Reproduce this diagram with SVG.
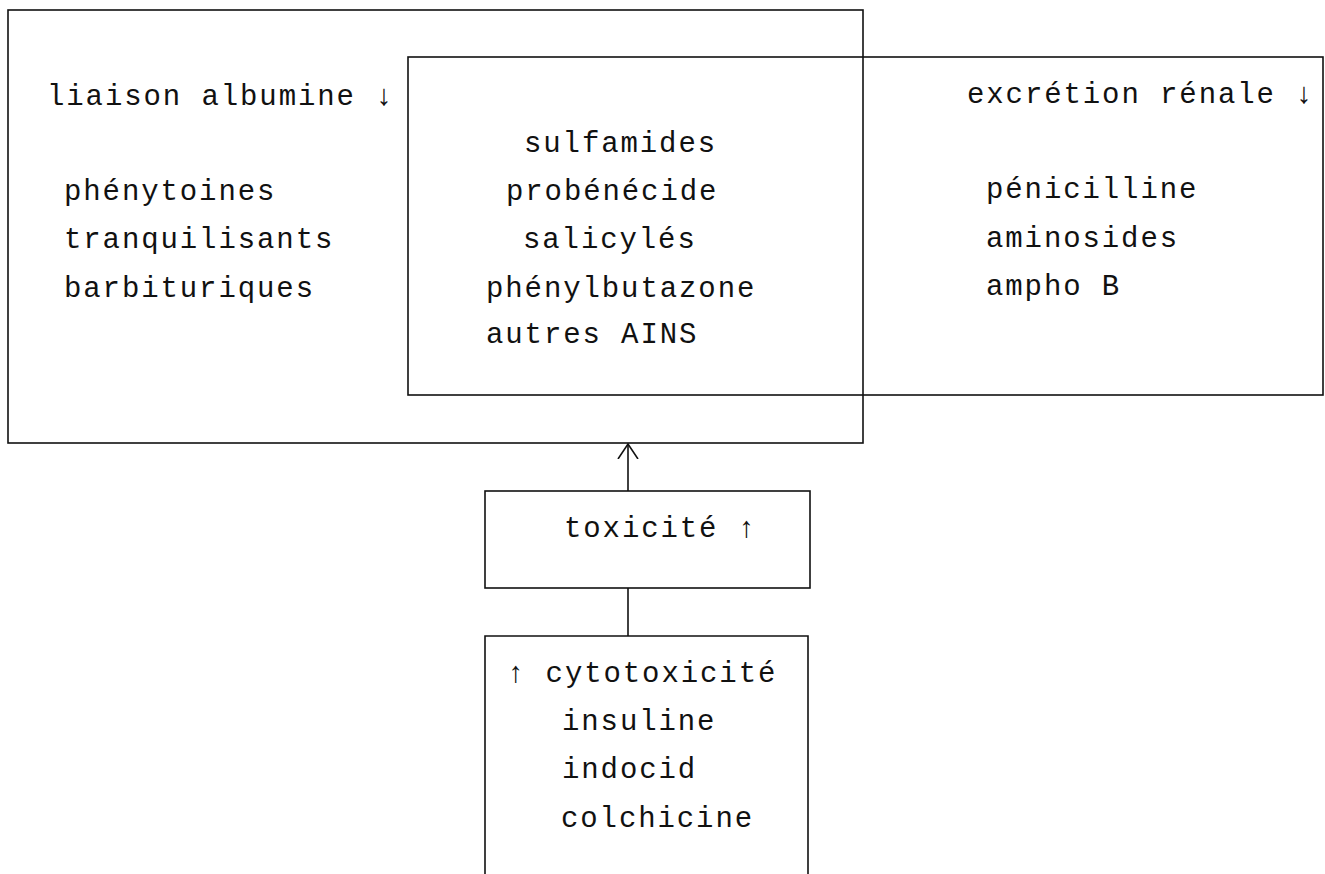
<svg xmlns="http://www.w3.org/2000/svg" width="1325" height="874" viewBox="0 0 1325 874">
<style>
.box{fill:none;stroke:#111;stroke-width:1.6}
.t{font-family:"Liberation Mono","DejaVu Sans Mono",monospace;font-size:29px;letter-spacing:1.9px;fill:#111}
.c{stroke:#111;stroke-width:1.6;fill:none}
</style>
<defs>
<marker id="open" viewBox="0 0 16 22" refX="15" refY="11" markerWidth="16" markerHeight="22" markerUnits="userSpaceOnUse" orient="auto">
<path d="M0,1 L15,11 L0,21" fill="none" stroke="#111" stroke-width="1.6"/>
</marker>
</defs>
<rect width="1325" height="874" fill="#fff"/>
<g id="liaison-albumine">
<rect class="box" x="8" y="10" width="855" height="433"/>
<text class="t" x="47" y="105">liaison albumine ↓</text>
<text class="t" x="64" y="200">phénytoines</text>
<text class="t" x="64" y="248">tranquilisants</text>
<text class="t" x="64" y="297">barbituriques</text>
</g>
<g id="excretion-renale">
<rect class="box" x="408" y="57" width="915" height="338"/>
<text class="t" x="967" y="103">excrétion rénale ↓</text>
<text class="t" x="986" y="198">pénicilline</text>
<text class="t" x="986" y="247">aminosides</text>
<text class="t" x="986" y="295">ampho B</text>
</g>
<g id="commun">
<text class="t" x="524" y="152">sulfamides</text>
<text class="t" x="506" y="200">probénécide</text>
<text class="t" x="523" y="248">salicylés</text>
<text class="t" x="486" y="297">phénylbutazone</text>
<text class="t" x="486" y="343">autres AINS</text>
</g>
<g id="toxicite">
<rect class="box" x="485" y="491" width="325" height="97"/>
<text class="t" x="564" y="537">toxicité ↑</text>
</g>
<g id="cytotoxicite">
<path class="box" d="M485,874 V636 H808 V874"/>
<text class="t" x="507" y="682">↑ cytotoxicité</text>
<text class="t" x="562" y="730">insuline</text>
<text class="t" x="562" y="778">indocid</text>
<text class="t" x="561" y="827">colchicine</text>
</g>
<g id="connectors">
<line class="c" x1="628" y1="491" x2="628" y2="444" marker-end="url(#open)"/>
<line class="c" x1="628" y1="636" x2="628" y2="588"/>
</g>
</svg>
